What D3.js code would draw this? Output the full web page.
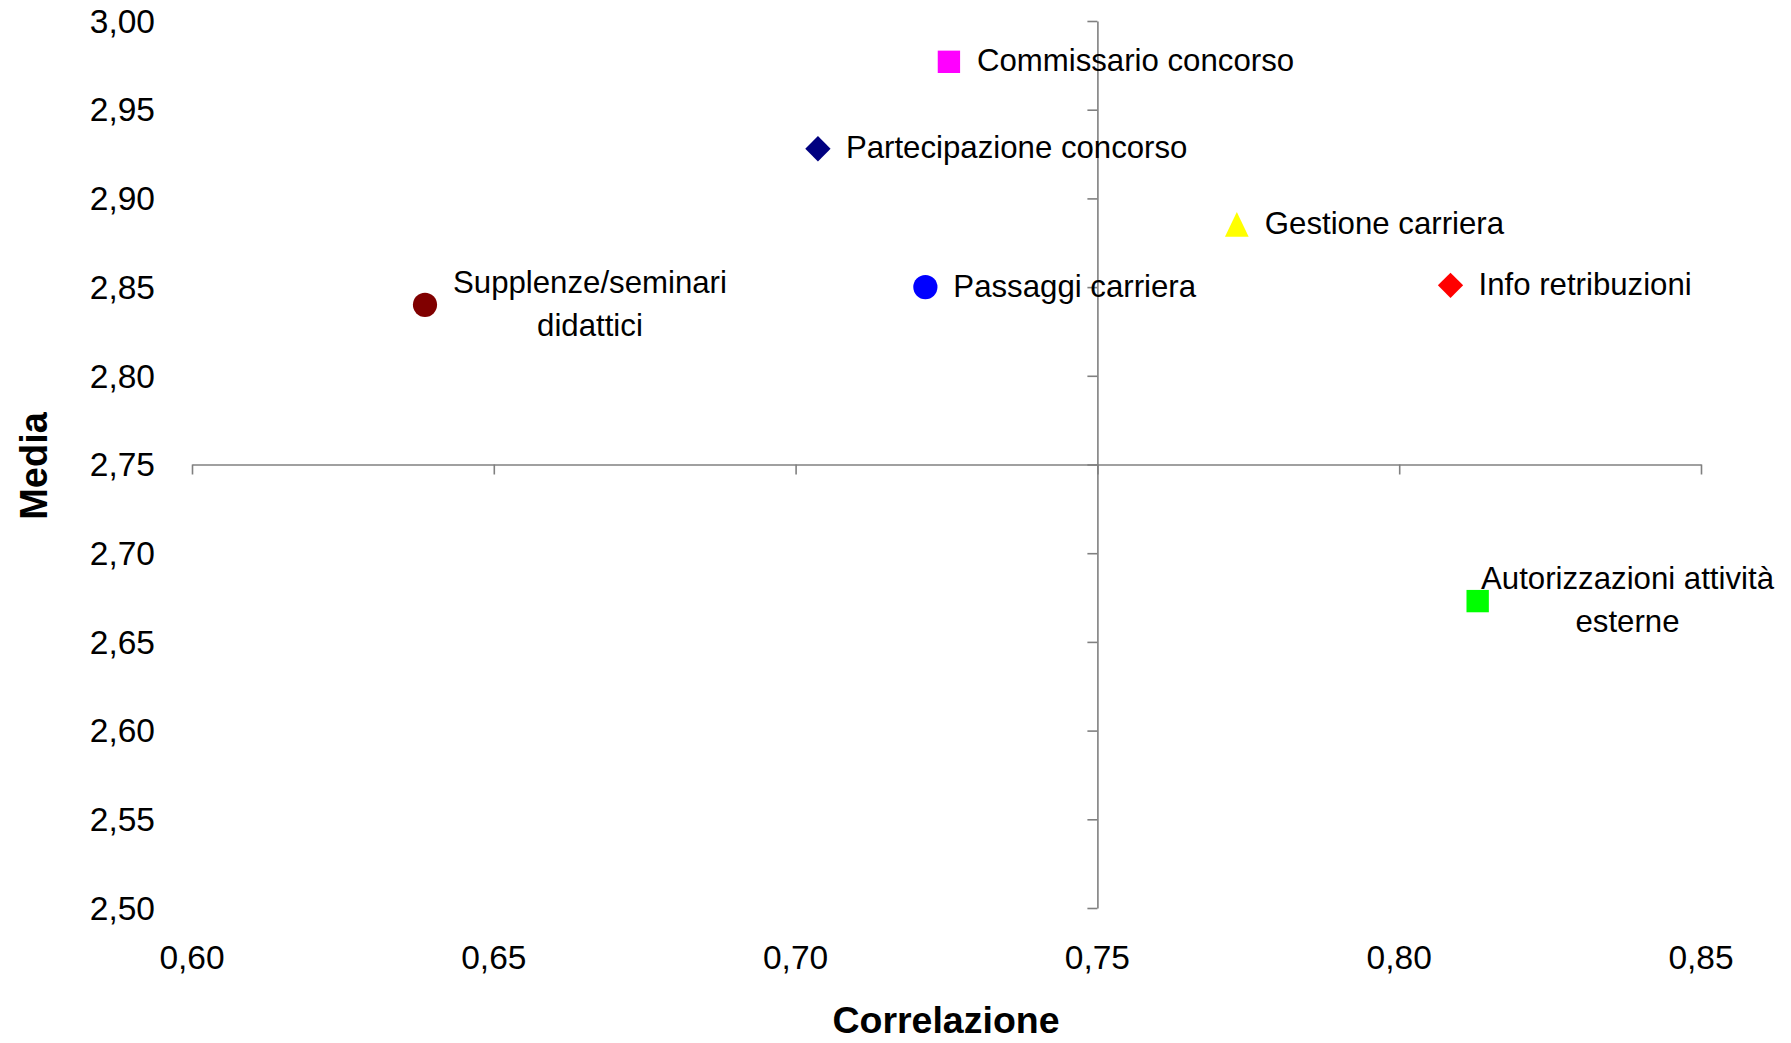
<!DOCTYPE html>
<html>
<head>
<meta charset="utf-8">
<script src="https://cdn.jsdelivr.net/npm/d3@7"></script>
<style>
  html, body { margin: 0; padding: 0; background: #fff; }
  svg { display: block; font-family: "Liberation Sans", Arial, sans-serif; }
</style>
</head>
<body>
<svg id="chart" width="1791" height="1043"></svg>
<script>
// ---- data ----
const labels = [
  ["Supplenze/seminari", "didattici"],
  ["Commissario concorso"],
  ["Partecipazione concorso"],
  ["Passaggi carriera"],
  ["Gestione carriera"],
  ["Info retribuzioni"],
  ["Autorizzazioni attività", "esterne"]
];
const correlazione = [0.6386, 0.7254, 0.7037, 0.7215, 0.7731, 0.8085, 0.8130];
const media        = [2.840, 2.977, 2.928, 2.850, 2.885, 2.851, 2.673];
const markerShapes = ["circle", "square", "diamond", "circle", "triangle", "diamond", "square"];
const markerColors = ["#800000", "#FF00FF", "#000080", "#0000FF", "#FFFF00", "#FF0000", "#00FF00"];
const xTicks = [0.60, 0.65, 0.70, 0.75, 0.80, 0.85];
const yTicks = [2.50, 2.55, 2.60, 2.65, 2.70, 2.75, 2.80, 2.85, 2.90, 2.95, 3.00];
const xTitle = "Correlazione";
const yTitle = "Media";

// ---- layout ----
const W = 1791, H = 1043;
const svg = d3.select("#chart");
const x = d3.scaleLinear().domain([0.60, 0.85]).range([192, 1701]);
const y = d3.scaleLinear().domain([2.50, 3.00]).range([908, 21]);
const xCross = 0.75, yCross = 2.75;
const it = d3.formatLocale({decimal: ",", thousands: ".", grouping: [3], currency: ["", "€"]});
const fmt = it.format(".2f");
const axisColor = "#808080";

// horizontal axis (crossing at 2.75), ticks downward
const gx = svg.append("g").attr("transform", `translate(0,${y(yCross)})`)
  .call(d3.axisBottom(x).tickValues(xTicks).tickSize(10).tickSizeOuter(0).tickFormat(""));
// vertical axis (crossing at 0.75), ticks to the left
const gy = svg.append("g").attr("transform", `translate(${x(xCross)},0)`)
  .call(d3.axisLeft(y).tickValues(yTicks).tickSize(10).tickSizeOuter(0).tickFormat(""));
[gx, gy].forEach(g => {
  g.selectAll(".domain").attr("stroke", axisColor).attr("stroke-width", 1.6);
  g.selectAll(".tick line").attr("stroke", axisColor).attr("stroke-width", 1.6);
});

// tick labels at chart edges
svg.append("g").selectAll("text").data(xTicks).join("text")
  .attr("x", d => x(d)).attr("y", 957).attr("dy", "0.35em")
  .attr("text-anchor", "middle").attr("font-size", 33.5).attr("fill", "#000")
  .text(d => fmt(d));
svg.append("g").selectAll("text").data(yTicks).join("text")
  .attr("x", 155).attr("y", d => y(d)).attr("dy", "0.35em")
  .attr("text-anchor", "end").attr("font-size", 33.5).attr("fill", "#000")
  .text(d => fmt(d));

// titles
svg.append("text").attr("x", 946).attr("y", 1020).attr("dy", "0.35em")
  .attr("text-anchor", "middle").attr("font-size", 37.5).attr("font-weight", "bold")
  .text(xTitle);
svg.append("text").attr("transform", "translate(34,466) rotate(-90)").attr("dy", "0.35em")
  .attr("text-anchor", "middle").attr("font-size", 38).attr("font-weight", "bold")
  .text(yTitle);

// markers
const tri = { draw(ctx, size) { const w = Math.sqrt(size); ctx.moveTo(0, -w*0.55); ctx.lineTo(w*0.5, w*0.5); ctx.lineTo(-w*0.5, w*0.5); ctx.closePath(); } };
const shapeOf = {
  circle: d3.symbol().type(d3.symbolCircle).size(460),
  square: d3.symbol().type(d3.symbolSquare).size(500),
  diamond: d3.symbol().type(d3.symbolSquare).size(320),
  triangle: d3.symbol().type(tri).size(560)
};
const pts = correlazione.map((c, i) => ({c, m: media[i], lab: labels[i], shape: markerShapes[i], color: markerColors[i]}));
svg.append("g").selectAll("path").data(pts).join("path")
  .attr("transform", d => `translate(${x(d.c)},${y(d.m)})` + (d.shape === "diamond" ? " rotate(45)" : ""))
  .attr("d", d => shapeOf[d.shape]())
  .attr("fill", d => d.color);

// data labels (to the right, centered vertically, kept inside the chart)
const lineH = 43, labFS = 31.2, gap = 28, rightLimit = W - 17;
pts.forEach(d => {
  const g = svg.append("g");
  const texts = d.lab.map((t, k) => g.append("text")
    .attr("font-size", labFS).attr("fill", "#000")
    .attr("y", y(d.m) - 1.5 + (k - (d.lab.length - 1) / 2) * lineH).attr("dy", "0.35em")
    .attr("text-anchor", "middle").text(t));
  const wmax = d3.max(texts, t => t.node().getComputedTextLength());
  let left = x(d.c) + gap;
  if (left + wmax > rightLimit) left = rightLimit - wmax;
  texts.forEach(t => t.attr("x", left + wmax / 2));
});
</script>
</body>
</html>
